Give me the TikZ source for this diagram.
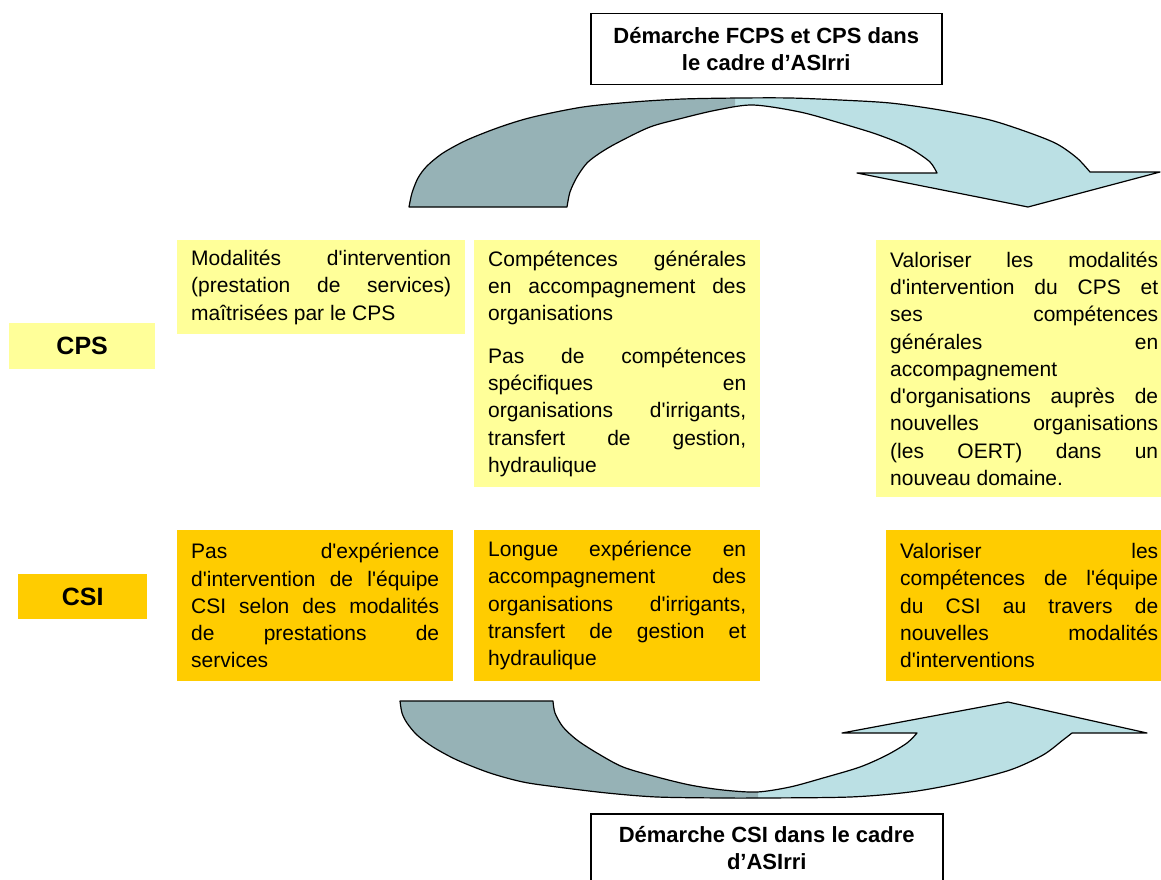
\documentclass[tikz,border=0pt]{standalone}
\usepackage{fontspec}
\setmainfont{Liberation Sans}
\newfontfamily\bodyfont{Liberation Sans}
\definecolor{paleyellow}{RGB}{255,255,153}
\definecolor{gold}{RGB}{255,204,0}
\definecolor{arrowdark}{RGB}{150,178,182}
\definecolor{arrowlight}{RGB}{187,224,228}
\newcommand\justsetup{\tolerance=10000\relax\hbadness=10000\relax\hyphenpenalty=10000\relax\exhyphenpenalty=10000\relax}
\tikzset{
  textbox/.style={anchor=north west, inner xsep=14pt, inner ysep=0pt, align=justify,
    font=\bodyfont\fontsize{21}{27.3}\selectfont, text=black},
  cpsbox/.style={textbox, fill=paleyellow},
  csibox/.style={textbox, fill=gold},
  rowlabel/.style={anchor=north west, inner sep=0pt, font=\bodyfont\bfseries\fontsize{25}{30}\selectfont},
  titlebox/.style={anchor=north west, draw=black, line width=1.5pt, fill=white, inner sep=0pt,
    align=center, font=\bodyfont\bfseries\fontsize{22}{27}\selectfont},
  ribbon/.style={draw=black, line width=1.2pt, line join=round},
}
\def\toppath{plot[smooth] coordinates {(409,207) (412,193) (418,178) (427,166) (443,153) (467,140) (500,127) (533,117) (583,107) (633,102) (683,99) (740,98) (790,98) (840,100) (890,103) (940,110) (990,120) (1030,133) (1057,144) (1077,158) (1090,172)}
  -- (1160,172) -- (1028,207) -- (857,173) -- (937,173)
  -- plot[smooth] coordinates {(937,173) (930,162) (913,150) (897,142) (873,133) (840,123) (800,112) (753,105) (717,110) (683,118) (650,127) (617,143) (600,153) (587,163) (577,177) (570,192) (567,207)}
  -- cycle}
\def\botpath{(400,701) -- (553,701)
  -- plot[smooth] coordinates {(553,701) (555,713) (563,727) (577,740) (597,753) (623,767) (657,777) (690,785) (723,790) (757,792) (790,787) (823,778) (860,767) (887,755) (907,743) (917,733)}
  -- (842,733) -- (1008,702) -- (1147,733) -- (1072,733)
  -- plot[smooth] coordinates {(1072,733) (1063,740) (1043,755) (1010,770) (960,783) (910,792) (850,797) (760,798) (723,798) (657,797) (607,793) (557,787) (523,782) (490,773) (457,760) (433,747) (417,735) (407,723) (402,713) (400,701)}
  -- cycle}
\begin{document}
\begin{tikzpicture}[x=1pt,y=-1pt]
\useasboundingbox (0,0) rectangle (1161,880);
\clip (0,0) rectangle (1161,880);
% top curved arrow
\fill[arrowlight] \toppath;
\begin{scope}
  \clip (0,0) rectangle (735,300);
  \fill[arrowdark] \toppath;
\end{scope}
\draw[ribbon] \toppath;
% bottom curved arrow
\fill[arrowlight] \botpath;
\begin{scope}
  \clip (0,600) rectangle (758,880);
  \fill[arrowdark] \botpath;
\end{scope}
\draw[ribbon] \botpath;
% titles
\node[titlebox, minimum width=351pt, minimum height=71pt] (title1) at (590,13)
  {Démarche FCPS et CPS dans\\le cadre d’ASIrri};
\node[titlebox, minimum width=352pt, minimum height=68pt] (title2) at (590,813)
  {Démarche CSI dans le cadre\\d’ASIrri};
% row labels
\node[rowlabel, fill=paleyellow, minimum width=146pt, minimum height=46pt] (cps) at (9,323) {CPS};
\node[rowlabel, fill=gold, minimum width=129pt, minimum height=45pt] (csi) at (18,574) {CSI};
% CPS row
\node[cpsbox, text width=260pt, minimum height=94pt] (cpsA) at (177,240)
  {\justsetup Modalités d'intervention \linebreak (prestation de services) \linebreak maîtrisées par le CPS};
\node[cpsbox, text width=258pt, minimum height=247pt] (cpsB) at (474,240)
  {\justsetup Compétences générales \linebreak en accompagnement des \linebreak organisations\par\vskip 15pt
   Pas de compétences \linebreak spécifiques en \linebreak organisations d'irrigants, \linebreak transfert de gestion, \linebreak hydraulique};
\node[cpsbox, text width=268pt, minimum height=257pt] (cpsC) at (876,240)
  {\justsetup Valoriser les modalités \linebreak d'intervention du CPS et \linebreak ses compétences \linebreak générales en \linebreak accompagnement\newline d'organisations auprès de \linebreak nouvelles organisations \linebreak (les OERT) dans un \linebreak nouveau domaine.};
% CSI row
\node[csibox, text width=248pt, minimum height=151pt] (csiA) at (177,530)
  {\justsetup Pas d'expérience \linebreak d'intervention de l'équipe \linebreak CSI selon des modalités \linebreak de prestations de \linebreak services};
\node[csibox, text width=258pt, minimum height=151pt] (csiB) at (474,530)
  {\justsetup Longue expérience en \linebreak accompagnement des \linebreak organisations d'irrigants, \linebreak transfert de gestion et \linebreak hydraulique};
\node[csibox, text width=258pt, minimum height=151pt] (csiC) at (886,530)
  {\justsetup Valoriser les \linebreak compétences de l'équipe \linebreak du CSI au travers de \linebreak nouvelles modalités \linebreak d'interventions};
\end{tikzpicture}
\end{document}
